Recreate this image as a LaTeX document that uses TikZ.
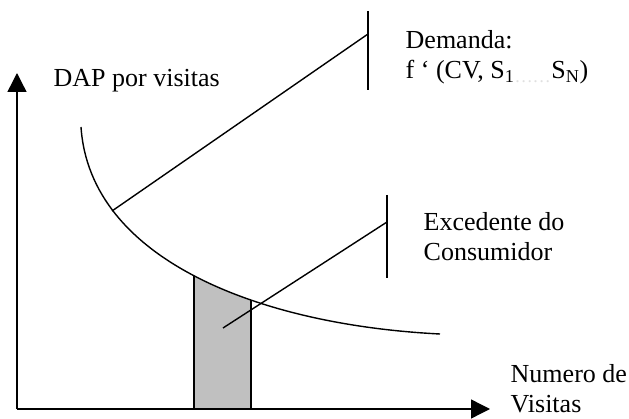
\documentclass[tikz,border=0pt]{standalone}
\usepackage{fontspec}
\setmainfont{Liberation Serif}
\usepackage{tikz}
\usetikzlibrary{arrows.meta}
\definecolor{shadegray}{RGB}{192,192,192}

\begin{document}
\begin{tikzpicture}[x=1pt, y=-1pt, line width=1.4pt,
  lbl/.style={anchor = base west, inner sep=0pt, align=left, font=\fontsize{26}{30}\selectfont},
  axis/.style={-{Triangle[length=19pt, width=19pt]}}]
\useasboundingbox (0,0) rectangle (629,419);

% axes
\coordinate (o) at (17,409);
\coordinate (ytop) at (17,73);
\coordinate (xend) at (490,409);
\draw[axis] (o)--(ytop);
\draw[axis] (o)--(xend);

% area under the demand curve
\begin{scope}
\clip (81,127) .. controls (90,260) and (260,325) .. (440,334) -- (440,409) -- (81,409) -- cycle;
\filldraw[fill = shadegray] (194,409) rectangle (251,200);
\end{scope}

% demand curve
\draw (81,127) .. controls (90,260) and (260,325) .. (440,334);

% leaders
\coordinate (demA) at (112,211);
\coordinate (demB) at (368,34);
\coordinate (demT) at (368,11);
\coordinate (demD) at (368,90);
\draw (demA)--(demB);
\draw (demT)--(demD);
\coordinate (excA) at (223,328);
\coordinate (excB) at (387,222);
\coordinate (excT) at (387,195);
\coordinate (excD) at (387,278);
\draw (excA)--(excB);
\draw (excT)--(excD);

% labels (base = last line)
\node[lbl] (dap) at (53,87) {DAP por visitas};
\node[lbl] (dem) at (405,79) {Demanda:\\f ‘ (CV, S\textsubscript{1}\textcolor{black!12}{\textsubscript{\ldots\ldots}}S\textsubscript{N})};
\node[lbl] (exc) at (423,261) {Excedente do\\Consumidor};
\node[lbl] (num) at (510,412) {Numero de\\Visitas};
\end{tikzpicture}
\end{document}
